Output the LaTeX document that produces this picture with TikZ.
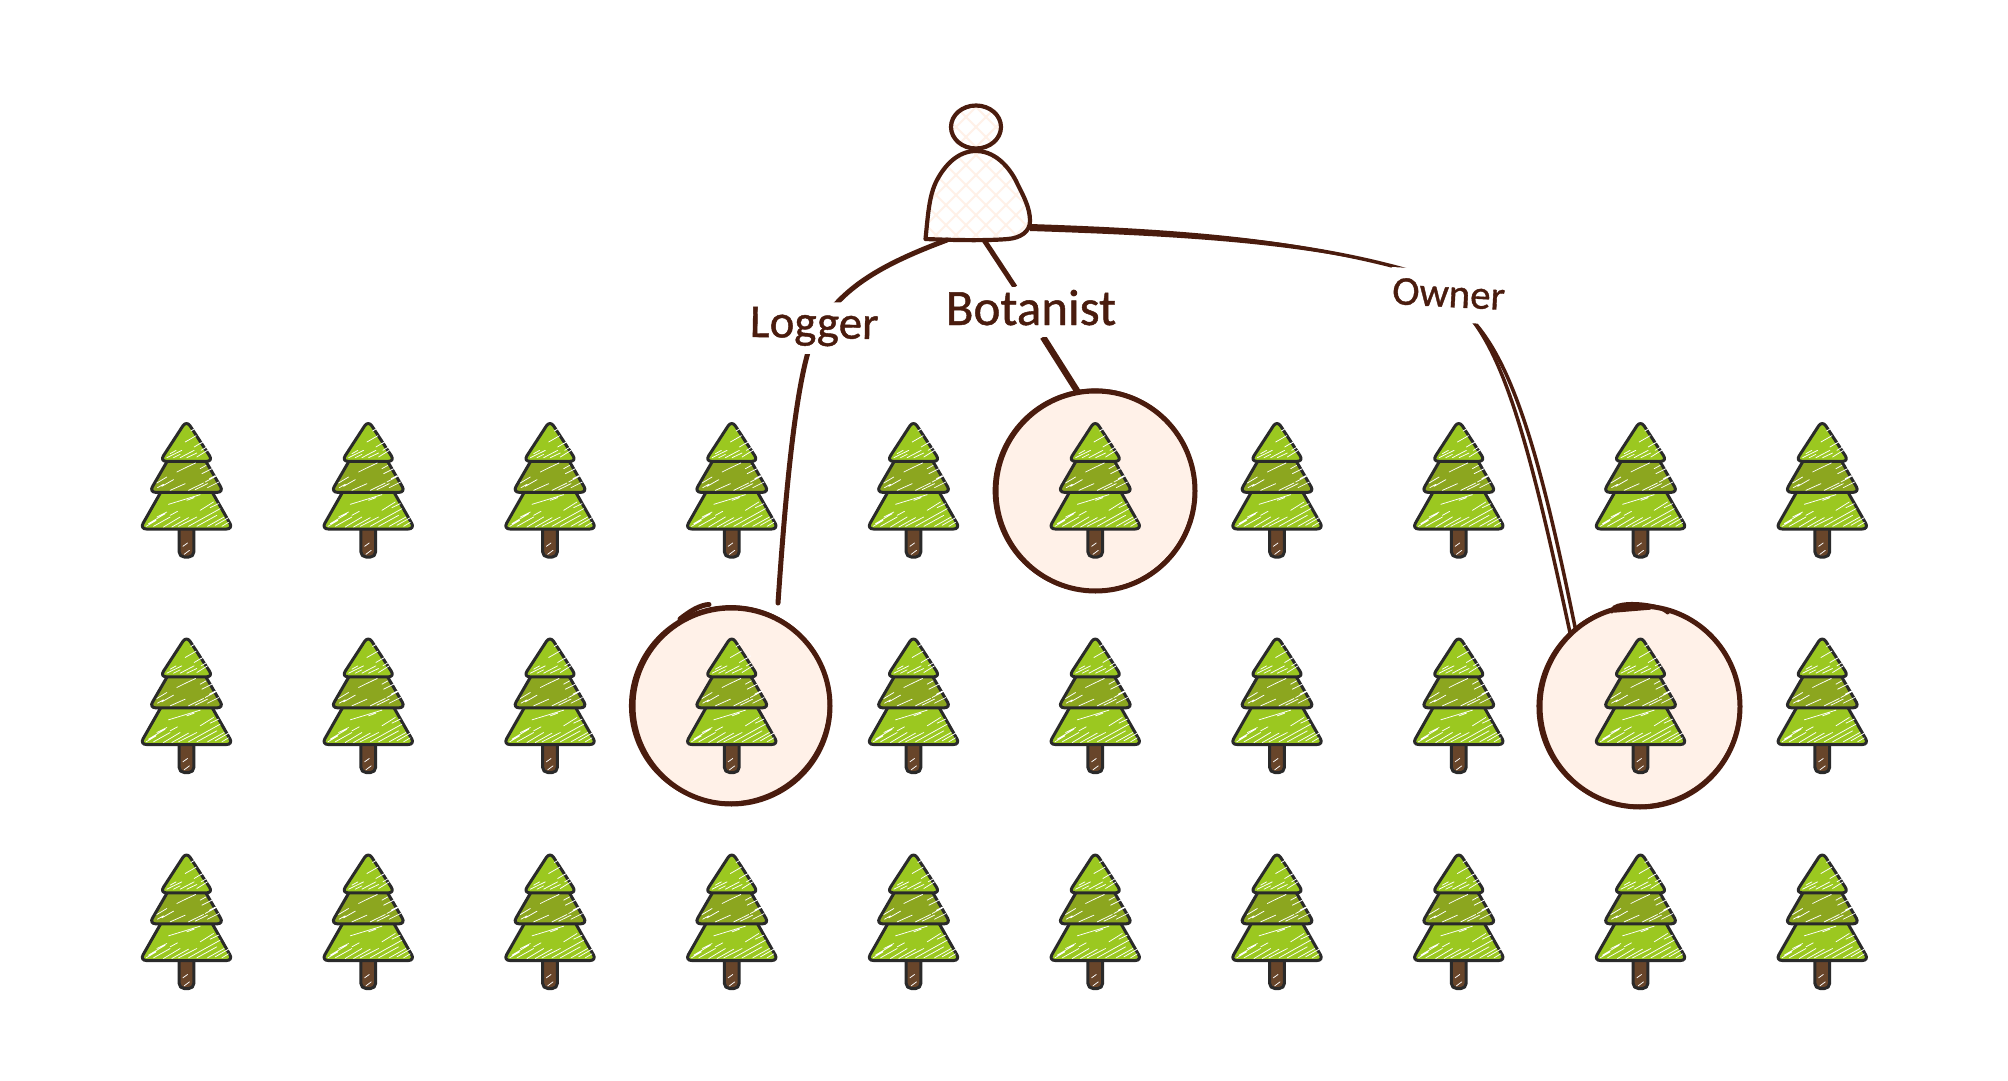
\documentclass[tikz,border=0pt]{standalone}
\usepackage{fontspec}
\usetikzlibrary{shapes.geometric}
\newfontfamily\handfont{Carlito}[FakeBold=0.9]
\definecolor{ink}{HTML}{4A1C0E}
\definecolor{peach}{HTML}{FFF1E8}
\definecolor{leaf}{HTML}{9BC820}
\definecolor{leafdark}{HTML}{8CA61F}
\definecolor{bark}{HTML}{68452A}
\definecolor{treeline}{HTML}{2A2A2A}
\tikzset{
  tierbox/.style={draw=treeline,line width=3pt,rounded corners=6.5pt,line join=round},
  scratch/.style={draw=white,line width=0.75pt,line cap=round},
  wire/.style={draw=ink,line width=5pt,line cap=round},
  thinwire/.style={draw=ink,line width=3.5pt,line cap=butt},
  person/.style={draw=ink,line width=4.2pt,line join=round},
  netline/.style={draw=peach,line width=2pt},
  ringnode/.style={ellipse,draw=ink,fill=peach,line width=5pt,inner sep=0pt,outer sep=0pt},
  roughring/.style={draw=ink,line width=3.4pt},
  rolelabel/.style={anchor=base,fill=white,inner ysep=0pt,inner xsep=2pt,text=ink},
  pics/pine/.style={code={
    \begin{scope}[x=0.33333pt,y=-0.33333pt,shift={(-199,-68)}]
      \path[tierbox,fill=bark,rounded corners=5pt] (177,350) -- (221,350) -- (221,470) -- (177,470) -- cycle;
      \path[tierbox,fill=leaf] (199,140) -- (339,386) -- (59,386) -- cycle;
      \path[tierbox,fill=leafdark] (199,83) -- (311,276) -- (87,276) -- cycle;
      \path[tierbox,fill=leaf] (199,60) -- (279,183) -- (119,183) -- cycle;
      \path[scratch]
        (195,125)--(228,106) (212,92)--(224,85) (140,172)--(185,150) (150,160)--(168,150)
        (180,172)--(222,150) (230,170)--(262,150) (240,130)--(256,120) (222,140)--(242,128)
        (200,172)--(230,158) (243,150)--(258,141) (160,172)--(180,162)
        (190,205)--(226,188) (110,248)--(140,230) (125,258)--(160,238) (150,270)--(195,250)
        (245,220)--(275,205) (255,245)--(292,225) (205,270)--(250,248) (262,262)--(296,245)
        (240,205)--(258,195) (170,215)--(190,205) (112,262)--(130,252) (225,268)--(262,250)
        (268,235)--(285,226)
        (145,312)--(240,283) (85,370)--(135,340) (78,378)--(108,360) (130,380)--(180,350)
        (175,378)--(230,350) (230,378)--(290,345) (285,375)--(325,352) (240,330)--(280,305)
        (110,350)--(140,335) (255,350)--(300,325) (150,345)--(172,333) (200,300)--(222,292)
        (100,378)--(150,350) (155,380)--(205,352) (205,378)--(255,350) (262,378)--(312,350)
        (305,378)--(325,366) (270,322)--(295,310)
        (192,462)--(208,450) (188,438)--(202,428);
    \end{scope}
  }}
}
\begin{document}
\begin{tikzpicture}[x=1pt,y=-1pt]
  \useasboundingbox[fill=white] (0,0) rectangle (2008,1081);

  % person
  \begin{scope}
    \clip (976,127) ellipse [x radius=25,y radius=21.5];
    \foreach \d in {-60,-40,...,60}{
      \draw[netline] (976+\d-40,127-40) -- (976+\d+40,127+40);
      \draw[netline] (976+\d-40,127+40) -- (976+\d+40,127-40);
    }
  \end{scope}
  \node[ellipse,person,minimum width=50pt,minimum height=43pt,inner sep=0pt,outer sep=0pt] (head) at (976,127) {};
  \coordinate (bodyL) at (925.5,239);
  \coordinate (bodyLogger) at (947,240);
  \coordinate (bodyBot) at (984,240);
  \coordinate (bodyOwner) at (1030,227);
  \begin{scope}
    \clip (925.5,239) .. controls (928,215) and (929,195) .. (937,180)
      .. controls (945,165) and (958,151) .. (976,151)
      .. controls (998,151) and (1012,172) .. (1017,183)
      .. controls (1024,197) and (1030,208) .. (1030,221)
      .. controls (1030,232) and (1020,238) .. (1008,239)
      .. controls (985,241) and (950,240) .. cycle;
    \foreach \d in {-120,-100,...,120}{
      \draw[netline] (976+\d-100,195-100) -- (976+\d+100,195+100);
      \draw[netline] (976+\d-100,195+100) -- (976+\d+100,195-100);
    }
  \end{scope}
  \draw[person] (bodyL) .. controls (928,215) and (929,195) .. (937,180)
      .. controls (945,165) and (958,151) .. (976,151)
      .. controls (998,151) and (1012,172) .. (1017,183)
      .. controls (1024,197) and (1030,208) .. (1030,221)
      .. controls (1030,232) and (1020,238) .. (1008,239)
      .. controls (985,241) and (950,240) .. cycle;

  % rings
  \node[ringnode,minimum width=197pt,minimum height=196pt] (ringLogger) at (731.5,706) {};
  \node[ringnode,minimum width=199pt,minimum height=200pt] (ringBot) at (1095.5,491) {};
  \node[ringnode,minimum width=200pt,minimum height=201pt] (ringOwner) at (1640,706.5) {};
  \coordinate (loggerEnd) at (778,603);

  % rough ring strokes
  \draw[roughring] (730,705) ellipse [x radius=99.5,y radius=98,rotate=20];
  \draw[roughring,line cap=round,line width=5pt] (680,619) .. controls (690,611) and (700,605) .. (709,604.5);
  \draw[roughring] (1094.5,490.5) ellipse [x radius=100,y radius=100.5,rotate=-30];
  \draw[roughring] (1639,706) ellipse [x radius=101,y radius=100,rotate=25];
  \draw[roughring,line cap=round] (1612,612) .. controls (1610,604) and (1630,602) .. (1648,605) .. controls (1655,606) and (1662,608) .. (1668,613);
  \draw[roughring,line cap=round] (1614,611) -- (1650,608);

  % connectors
  \draw[wire] (bodyLogger) .. controls (880,265) and (835,290) .. (812,340)
      .. controls (795,385) and (785,500) .. (loggerEnd);
  \draw[wire,line width=5pt,line cap=butt] (bodyBot) -- (1015,287);
  \draw[wire,line width=6.4pt,line cap=butt] (1043,337) -- (ringBot.100);
  \draw[thinwire] (bodyOwner) .. controls (1180,232) and (1300,240) .. (1407,270)
      .. controls (1440,283) and (1460,305) .. (1473,321)
      .. controls (1510,370) and (1535,470) .. (ringOwner.134);
  \draw[thinwire] (1473,321) .. controls (1516,368) and (1543,470) .. (ringOwner.130);
  \fill[ink] (1030,224) .. controls (1180,229) and (1300,238) .. (1407,270)
      .. controls (1300,243) and (1180,236) .. (1030,231) -- cycle;

  % trees
  \foreach \r in {423,638.5,854.5}{
    \foreach \k in {0,...,9}{
      \pgfmathsetmacro\xx{186.5+181.75*\k}
      \pic at (\xx,\r) {pine};
    }
  }

  % labels
  \node[rolelabel,text height=36pt,text depth=16pt,rotate=-1] (logger) at (814,338)
    {\handfont\fontsize{47}{47}\selectfont Logger};
  \node[rolelabel,text height=38pt,text depth=12pt] (botanist) at (1031,325)
    {\handfont\fontsize{51}{51}\selectfont Botanist};
  \node[rolelabel,text height=37pt,text depth=15pt,rotate=-3] (owner) at (1448,307)
    {\handfont\fontsize{41}{41}\selectfont Owner};
\end{tikzpicture}
\end{document}
